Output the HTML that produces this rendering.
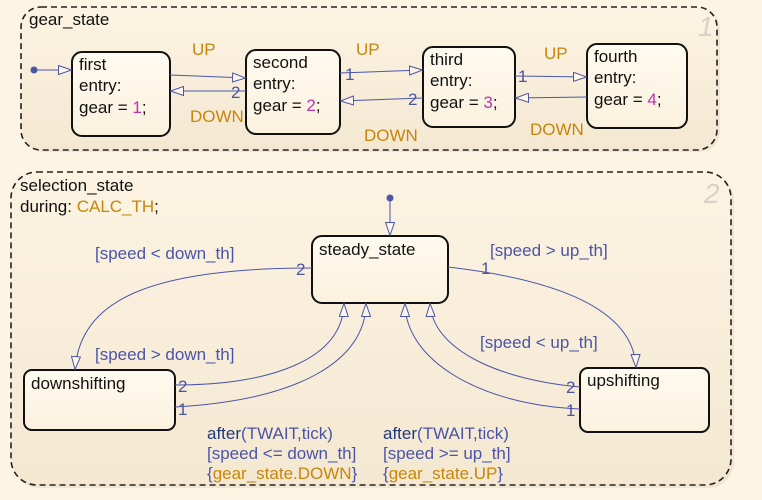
<!DOCTYPE html>
<html><head><meta charset="utf-8"><style>
html,body{margin:0;padding:0;background:#fdf4e3;}
svg{display:block;font-family:"Liberation Sans",sans-serif;}
</style></head><body>
<svg width="762" height="500" viewBox="0 0 762 500" xmlns="http://www.w3.org/2000/svg">
<defs>
<linearGradient id="rg" x1="0" y1="0" x2="0" y2="1"><stop offset="0" stop-color="#fcf3e2"/><stop offset="1" stop-color="#f4e8d2"/></linearGradient>
<linearGradient id="sg" x1="0" y1="0" x2="0" y2="1"><stop offset="0" stop-color="#fffaf0"/><stop offset="1" stop-color="#fbf1de"/></linearGradient>
<marker id="ah" viewBox="0 0 14 10" refX="14" refY="5" markerWidth="14" markerHeight="10" markerUnits="userSpaceOnUse" orient="auto"><path d="M0.5,0.5 L13.5,5 L0.5,9.5 Z" fill="#fdf6e8" stroke="#4a55a8" stroke-width="1"/></marker>
</defs>
<rect width="762" height="500" fill="#fdf4e3"/>
<rect x="23" y="9" width="697" height="143" rx="20" fill="#e8dcc6" opacity="0.6"/>
<rect x="21" y="7" width="696" height="143" rx="20" fill="url(#rg)" stroke="#222" stroke-width="1.6" stroke-dasharray="6,4"/>
<rect x="13" y="174" width="721" height="314" rx="26" fill="#e8dcc6" opacity="0.6"/>
<rect x="11" y="172" width="720" height="313" rx="26" fill="url(#rg)" stroke="#222" stroke-width="1.6" stroke-dasharray="6,4"/>
<text x="698" y="36" font-size="28" font-style="italic" fill="#d8d2c6">1</text>
<text x="704" y="203" font-size="28" font-style="italic" fill="#d8d2c6">2</text>
<g font-size="17" fill="#111" textLength="0">
<text x="29" y="25">gear_state</text>
<text x="20" y="191">selection_state</text>
<text x="20" y="212">during: <tspan fill="#c8850a">CALC_TH</tspan>;</text>
</g>
<g stroke="#111" stroke-width="2" fill="url(#sg)">
<rect x="72" y="52" width="98" height="84" rx="10"/>
<rect x="246" y="50" width="94" height="84" rx="10"/>
<rect x="423" y="47" width="92" height="80" rx="10"/>
<rect x="587" y="44" width="100" height="84" rx="10"/>
<rect x="312" y="236" width="136" height="67" rx="10"/>
<rect x="24" y="370" width="151" height="60" rx="8"/>
<rect x="580" y="368" width="129" height="64" rx="8"/>
</g>
<g font-size="17" fill="#111">
<text x="79" y="70">first</text><text x="79" y="91">entry:</text><text x="79" y="113">gear = <tspan fill="#c030b0">1</tspan>;</text>
<text x="253" y="68">second</text><text x="253" y="89">entry:</text><text x="253" y="111">gear = <tspan fill="#c030b0">2</tspan>;</text>
<text x="430" y="65">third</text><text x="430" y="86">entry:</text><text x="430" y="108">gear = <tspan fill="#c030b0">3</tspan>;</text>
<text x="594" y="62">fourth</text><text x="594" y="83">entry:</text><text x="594" y="105">gear = <tspan fill="#c030b0">4</tspan>;</text>
<text x="319" y="255">steady_state</text>
<text x="31" y="389">downshifting</text>
<text x="587" y="386">upshifting</text>
</g>
<g stroke="#4a55a8" stroke-width="1" fill="none" marker-end="url(#ah)">
<path d="M34,70 L72,70"/>
<path d="M170,75 L246,78"/>
<path d="M246,91 L170,91"/>
<path d="M340,73 L423,70"/>
<path d="M423,98 L340,101"/>
<path d="M515,76 L587,77"/>
<path d="M587,97 L515,98"/>
<path d="M390,198 L390,236"/>
<path d="M312,268 C150,268 80,300 75,370"/>
<path d="M448,267 C560,280 634,310 636,368"/>
<path d="M175,385 C270,385 343,360 344,303"/>
<path d="M175,407 C300,400 366,360 366,303"/>
<path d="M580,387 C500,380 432,350 430,303"/>
<path d="M580,409 C480,405 405,360 405,303"/>
</g>
<circle cx="34" cy="70" r="3.5" fill="#4a55a8"/>
<circle cx="390" cy="198" r="3.5" fill="#4a55a8"/>
<g font-size="17" fill="#4a55a8">
<text x="231" y="98">2</text>
<text x="345" y="80">1</text>
<text x="408" y="105">2</text>
<text x="518" y="82">1</text>
<text x="296" y="275">2</text>
<text x="481" y="274">1</text>
<text x="178" y="392">2</text>
<text x="178" y="415">1</text>
<text x="566" y="393">2</text>
<text x="566" y="416">1</text>
<text x="95" y="259">[speed &lt; down_th]</text>
<text x="490" y="256">[speed &gt; up_th]</text>
<text x="95" y="360">[speed &gt; down_th]</text>
<text x="480" y="348">[speed &lt; up_th]</text>
<text x="207" y="439"><tspan fill="#1f3a7a">after</tspan>(TWAIT,tick)</text>
<text x="207" y="459">[speed &lt;= down_th]</text>
<text x="207" y="479">{<tspan fill="#c8850a">gear_state.DOWN</tspan>}</text>
<text x="383" y="439"><tspan fill="#1f3a7a">after</tspan>(TWAIT,tick)</text>
<text x="383" y="459">[speed &gt;= up_th]</text>
<text x="383" y="479">{<tspan fill="#c8850a">gear_state.UP</tspan>}</text>
</g>
<g font-size="17" fill="#c8850a">
<text x="192" y="55">UP</text>
<text x="190" y="122">DOWN</text>
<text x="356" y="55">UP</text>
<text x="364" y="141">DOWN</text>
<text x="544" y="59">UP</text>
<text x="530" y="135">DOWN</text>
</g>
</svg>
</body></html>
